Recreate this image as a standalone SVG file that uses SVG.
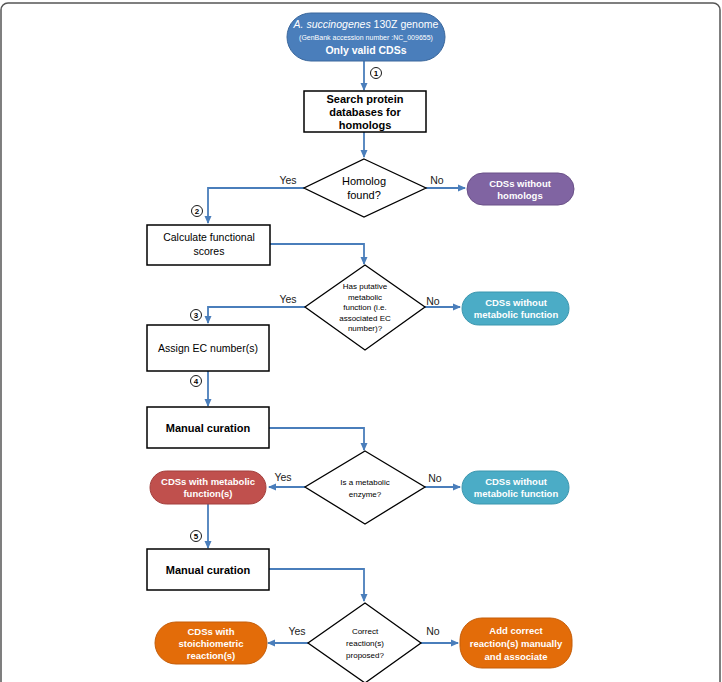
<svg xmlns="http://www.w3.org/2000/svg" width="722" height="682" viewBox="0 0 722 682">
<defs>
<marker id="ah" markerWidth="8" markerHeight="8" refX="7" refY="4" orient="auto" markerUnits="userSpaceOnUse">
<path d="M0,0.5 L8,4 L0,7.5 Z" fill="#4a7ebb"/>
</marker>
<style>
text{font-family:"Liberation Sans",Arial,sans-serif;text-anchor:middle;}
.box{fill:#fff;stroke:#000;stroke-width:1.5;}
.dia{fill:#fff;stroke:#000;stroke-width:1.3;}
.con{fill:none;stroke:#4a7ebb;stroke-width:1.8;marker-end:url(#ah);}
.bt{font-size:11px;font-weight:bold;fill:#000;}
.rt{font-size:10.5px;fill:#000;}
.dt{font-size:8px;fill:#000;}
.st{font-size:9.5px;font-weight:bold;fill:#fff;}
.lab{font-size:10.5px;fill:#222;}
.num{fill:#fff;stroke:#000;stroke-width:0.9;}
.nt{font-size:8px;font-weight:bold;fill:#000;}
</style>
</defs>
<rect x="1" y="3" width="719" height="690" rx="7" fill="#fff" stroke="#555" stroke-width="1.5"/>

<g id="connectors">
<path class="con" d="M364,61 V90"/>
<path class="con" d="M364,132 V157"/>
<path class="con" d="M304,188 H208 V223"/>
<path class="con" d="M426,188 H465"/>
<path class="con" d="M270,244 H364 V264"/>
<path class="con" d="M305,307 H208 V323"/>
<path class="con" d="M425,307 H460"/>
<path class="con" d="M208,371 V406"/>
<path class="con" d="M269,428 H364 V450"/>
<path class="con" d="M305,487 H269"/>
<path class="con" d="M425,487 H460"/>
<path class="con" d="M208,504 V548"/>
<path class="con" d="M269,569 H364 V601"/>
<path class="con" d="M308,643 H268"/>
<path class="con" d="M421,643 H458"/>
<text class="lab" x="288" y="184">Yes</text>
<text class="lab" x="437" y="184">No</text>
<text class="lab" x="288" y="303">Yes</text>
<text class="lab" x="433" y="305">No</text>
<text class="lab" x="283" y="481">Yes</text>
<text class="lab" x="435" y="482">No</text>
<text class="lab" x="297" y="635">Yes</text>
<text class="lab" x="433" y="635">No</text>
<circle class="num" cx="376" cy="73" r="5.5"/><text class="nt" x="376" y="76">1</text>
<circle class="num" cx="197" cy="211" r="5.5"/><text class="nt" x="197" y="214">2</text>
<circle class="num" cx="196" cy="315" r="5.5"/><text class="nt" x="196" y="318">3</text>
<circle class="num" cx="196" cy="381" r="5.5"/><text class="nt" x="196" y="384">4</text>
<circle class="num" cx="196" cy="536" r="5.5"/><text class="nt" x="196" y="539">5</text>
</g>

<g id="genome">
<rect x="287" y="13" width="158" height="48" rx="24" fill="#4a7ebb" stroke="#3a679c" stroke-width="1"/>
<text x="366" y="28" style="font-size:10.5px;fill:#fff"><tspan font-style="italic">A. succinogenes</tspan> 130Z genome</text>
<text x="366" y="40" style="font-size:7px;fill:#fff">(GenBank accession number :NC_009655)</text>
<text x="366" y="54" style="font-size:10.5px;font-weight:bold;fill:#fff">Only valid CDSs</text>
</g>

<g id="search">
<rect class="box" x="304" y="91" width="122" height="41"/>
<text class="bt" x="365" y="103">Search protein</text>
<text class="bt" x="365" y="116">databases for</text>
<text class="bt" x="365" y="129">homologs</text>
</g>

<g id="homolog">
<polygon class="dia" points="364,159 426,188 364,217 304,188"/>
<text class="rt" x="364" y="185" style="font-size:11px">Homolog</text>
<text class="rt" x="364" y="199" style="font-size:11px">found?</text>
</g>

<g id="nohomologs">
<rect x="467" y="173" width="107" height="32" rx="16" fill="#8064a2" stroke="#6a5188" stroke-width="1"/>
<text class="st" x="520" y="187">CDSs without</text>
<text class="st" x="520" y="199">homologs</text>
</g>

<g id="calc">
<rect class="box" x="147" y="225" width="123" height="40"/>
<text class="rt" x="209" y="241">Calculate functional</text>
<text class="rt" x="209" y="255">scores</text>
</g>

<g id="putative">
<polygon class="dia" points="365,265 425,307 365,350 305,307"/>
<text class="dt" x="365" y="289">Has putative</text>
<text class="dt" x="365" y="299.5">metabolic</text>
<text class="dt" x="365" y="310">function (i.e.</text>
<text class="dt" x="365" y="320.5">associated EC</text>
<text class="dt" x="365" y="331">number)?</text>
</g>

<g id="nometab1">
<rect x="462" y="292" width="107" height="33" rx="16.5" fill="#4bacc6" stroke="#3b96ae" stroke-width="1"/>
<text class="st" x="516" y="306">CDSs without</text>
<text class="st" x="516" y="318">metabolic function</text>
</g>

<g id="assign">
<rect class="box" x="147" y="325" width="122" height="46"/>
<text class="rt" x="208" y="352">Assign EC number(s)</text>
</g>

<g id="curation1">
<rect class="box" x="147" y="407" width="122" height="41"/>
<text class="bt" x="208" y="432">Manual curation</text>
</g>

<g id="enzyme">
<polygon class="dia" points="365,451 425,487 365,524 305,487"/>
<text class="dt" x="365" y="485">Is a metabolic</text>
<text class="dt" x="365" y="497">enzyme?</text>
</g>

<g id="withmetab">
<rect x="150" y="471" width="116" height="33" rx="16.5" fill="#c0504d" stroke="#a23f3c" stroke-width="1"/>
<text class="st" x="208" y="485">CDSs with metabolic</text>
<text class="st" x="208" y="497">function(s)</text>
</g>

<g id="nometab2">
<rect x="462" y="471" width="107" height="33" rx="16.5" fill="#4bacc6" stroke="#3b96ae" stroke-width="1"/>
<text class="st" x="516" y="485">CDSs without</text>
<text class="st" x="516" y="497">metabolic function</text>
</g>

<g id="curation2">
<rect class="box" x="147" y="549" width="122" height="41"/>
<text class="bt" x="208" y="574">Manual curation</text>
</g>

<g id="correct">
<polygon class="dia" points="365,603 421,643 365,683 308,643"/>
<text class="dt" x="365" y="634">Correct</text>
<text class="dt" x="365" y="646">reaction(s)</text>
<text class="dt" x="365" y="658">proposed?</text>
</g>

<g id="stoich">
<rect x="155" y="622" width="112" height="42" rx="21" fill="#e36c09" stroke="#c55d08" stroke-width="1"/>
<text class="st" x="211" y="635">CDSs with</text>
<text class="st" x="211" y="647">stoichiometric</text>
<text class="st" x="211" y="659">reaction(s)</text>
</g>

<g id="addcorrect">
<rect x="460" y="618" width="112" height="50" rx="22" fill="#e36c09" stroke="#c55d08" stroke-width="1"/>
<text class="st" x="516" y="634">Add correct</text>
<text class="st" x="516" y="647">reaction(s) manually</text>
<text class="st" x="516" y="660">and associate</text>
</g>
</svg>
